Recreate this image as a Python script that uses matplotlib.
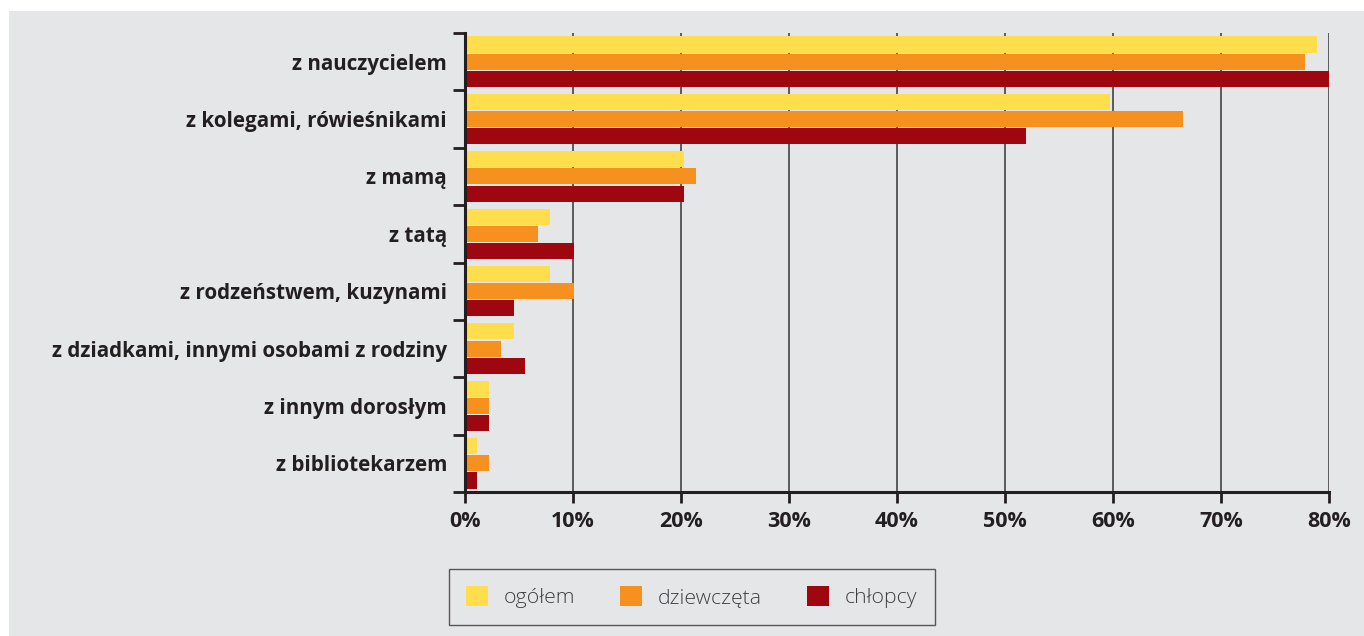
import matplotlib
matplotlib.use("Agg")
import matplotlib.pyplot as plt
import numpy as np
from matplotlib.patches import Rectangle, Patch

plt.rcParams['font.family'] = ['Open Sans', 'DejaVu Sans']

categories = ["z nauczycielem", "z kolegami, rówieśnikami", "z mamą", "z tatą",
              "z rodzeństwem, kuzynami", "z dziadkami, innymi osobami z rodziny",
              "z innym dorosłym", "z bibliotekarzem"]
ogolem = [78.9, 59.7, 20.3, 7.9, 7.9, 4.5, 2.2, 1.1]
dziewczeta = [77.8, 66.5, 21.4, 6.8, 10.1, 3.3, 2.2, 2.2]
chlopcy = [80.0, 51.9, 20.3, 10.1, 4.5, 5.6, 2.2, 1.1]
series_names = ["ogółem", "dziewczęta", "chłopcy"]
xticks = [0, 10, 20, 30, 40, 50, 60, 70, 80]

YELLOW, ORANGE, RED = "#ffde4d", "#f69120", "#9e0610"
BG, INK = "#e5e6e8", "#231f20"

fig = plt.figure(figsize=(13.64, 6.36), dpi=100)
fig.patch.set_facecolor("white")
fig.add_artist(Rectangle((9 / 1364, 0), 1, 1 - 11 / 636, transform=fig.transFigure,
                         fc=BG, ec="none", zorder=0))

ax = fig.add_axes([465 / 1364, 1 - 492 / 636, 864 / 1364, 459 / 636])
ax.set_facecolor("none")

y = np.arange(len(categories))
h, step = 0.28, 0.30
for vals, off, col in [(ogolem, -step, YELLOW), (dziewczeta, 0, ORANGE), (chlopcy, step, RED)]:
    ax.barh(y + off, vals, height=h, color=col, edgecolor="none", zorder=3)

ax.set_xlim(0, 80)
ax.set_ylim(len(categories) - 0.5, -0.5)

ax.set_xticks(xticks)
ax.set_xticklabels([f"{v}%" for v in xticks], fontsize=15.5, fontweight="bold", color=INK)
ax.tick_params(axis="x", direction="out", length=8, width=2, color=INK, pad=6)

# category boundaries get the ticks, labels sit centred in between
ax.set_yticks(np.arange(len(categories) + 1) - 0.5)
ax.set_yticklabels([])
ax.set_yticks(y, minor=True)
ax.set_yticklabels(categories, minor=True, fontsize=14.9, fontweight="bold", color=INK)
ax.tick_params(axis="y", which="major", direction="out", length=9, width=2, color=INK)
ax.tick_params(axis="y", which="minor", length=0, pad=13)

ax.grid(axis="x", color="#505050", lw=1.3, zorder=1)
for s in ["top", "right"]:
    ax.spines[s].set_visible(False)
for s in ["left", "bottom"]:
    ax.spines[s].set_color(INK)
    ax.spines[s].set_linewidth(2.2)
    ax.spines[s].set_zorder(4)

handles = [Patch(fc=c, ec="none") for c in (YELLOW, ORANGE, RED)]
leg = fig.legend(handles, series_names, loc="center", ncol=3,
                 bbox_to_anchor=((448 + 935) / 2 / 1364, 1 - 597 / 636),
                 prop={"size": 15.3, "weight": "light"}, frameon=True, fancybox=False,
                 handlelength=1.05, handleheight=1.05, handletextpad=0.75,
                 columnspacing=2.1, borderpad=0.8, labelcolor="#404040")
leg.get_frame().set_facecolor(BG)
leg.get_frame().set_edgecolor("#333333")
leg.get_frame().set_linewidth(1.0)

fig.savefig("out.png", dpi=100, facecolor=fig.get_facecolor())
